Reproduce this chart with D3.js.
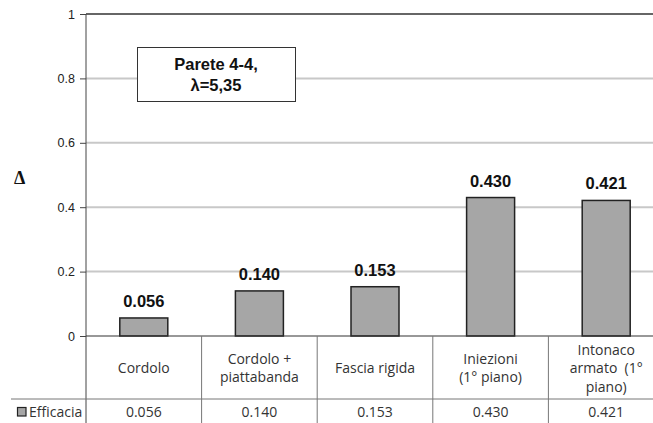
<!DOCTYPE html>
<html><head><meta charset="utf-8">
<script src="https://cdn.jsdelivr.net/npm/d3@7"></script>
<style>body{margin:0;background:#fff}svg{display:block}</style>
</head><body><svg id="c" width="653" height="423"></svg>
<script>
const categories = [["Cordolo"],["Cordolo +","piattabanda"],["Fascia rigida"],["Iniezioni","(1° piano)"],["Intonaco","armato \u00a0(1°","piano)"]];
const values = [0.056, 0.140, 0.153, 0.430, 0.421];
const valueLabels = ["0.056","0.140","0.153","0.430","0.421"];
const yTicks = [0, 0.2, 0.4, 0.6, 0.8, 1];
const yTickLabels = ["0","0.2","0.4","0.6","0.8","1"];
const seriesName = "Efficacia";
const titleLines = ["Parete 4-4,", "λ=5,35"];

const svg = d3.select("#c");
const padL = 86, padT = 14, zeroY = 336;
const bandW = 115.6;
const x = d3.scaleBand().domain(d3.range(values.length)).range([padL, padL + bandW*values.length]).paddingInner(0).paddingOuter(0);
const y = d3.scaleLinear().domain([0,1]).range([zeroY, padT]);

// gridlines
svg.append("g").selectAll("line").data(yTicks.filter(d=>d>0 && d<1)).join("line")
  .attr("x1", padL).attr("x2", 653).attr("y1", d=>y(d)).attr("y2", d=>y(d))
  .attr("stroke","#c8c8c8").attr("stroke-width",2);
// top border
svg.append("line").attr("x1",padL).attr("x2",653).attr("y1",y(1)).attr("y2",y(1)).attr("stroke","#333").attr("stroke-width",1.5);

// y axis
const yAxis = d3.axisLeft(y).tickValues(yTicks).tickFormat((d,i)=>yTickLabels[i]).tickSize(6).tickPadding(5);
const ga = svg.append("g").attr("transform",`translate(${padL},0)`).call(yAxis);
ga.select(".domain").remove();
ga.selectAll(".tick line").attr("stroke","#444");
ga.selectAll(".tick text").attr("font-family","Liberation Sans, Arial").attr("font-size",12.5).attr("fill","#222");
svg.append("line").attr("x1",padL).attr("x2",padL).attr("y1",padT).attr("y2",423).attr("stroke","#444").attr("stroke-width",1);

// bars
const bw = 48;
svg.append("g").selectAll("rect").data(values).join("rect")
  .attr("x",(d,i)=>x(i)+x.bandwidth()/2-bw/2).attr("width",bw)
  .attr("y",d=>y(d)).attr("height",d=>zeroY-y(d))
  .attr("fill","#a6a6a6").attr("stroke","#222").attr("stroke-width",1.5);

// value labels
svg.append("g").selectAll("text").data(values).join("text")
  .attr("x",(d,i)=>x(i)+x.bandwidth()/2).attr("y",d=>y(d)-11)
  .attr("text-anchor","middle").attr("font-family","Liberation Sans, Arial").attr("font-weight","bold").attr("font-size",16.5).attr("fill","#111")
  .text((d,i)=>valueLabels[i]);

// zero line
svg.append("line").attr("x1",padL).attr("x2",653).attr("y1",zeroY).attr("y2",zeroY).attr("stroke","#333").attr("stroke-width",1.2);

// table
const rowY = 399;
svg.append("line").attr("x1",11).attr("x2",653).attr("y1",rowY).attr("y2",rowY).attr("stroke","#777").attr("stroke-width",1);
svg.append("g").selectAll("line").data(d3.range(1,values.length)).join("line")
  .attr("x1",i=>x(i)).attr("x2",i=>x(i)).attr("y1",zeroY).attr("y2",423).attr("stroke","#777").attr("stroke-width",1);

const tf = "Open Sans, Liberation Sans, sans-serif";
const fs = 14;
const cg = svg.append("g");
categories.forEach((lines,i)=>{
  const cx = x(i)+x.bandwidth()/2;
  const lh = 18.5;
  const cy = 368;
  const t = cg.append("text").attr("text-anchor","middle").attr("font-family",tf).attr("font-size",fs).attr("fill","#333");
  lines.forEach((l,j)=>{
    t.append("tspan").attr("x",cx).attr("y",cy + (j-(lines.length-1)/2)*lh + 5).text(l);
  });
});
svg.append("g").selectAll("text").data(valueLabels).join("text")
  .attr("x",(d,i)=>x(i)+x.bandwidth()/2).attr("y",417)
  .attr("text-anchor","middle").attr("font-family",tf).attr("font-size",fs).attr("fill","#333").text(d=>d);
// legend key
svg.append("rect").attr("x",17.5).attr("y",407.5).attr("width",8.5).attr("height",8.5).attr("fill","#a6a6a6").attr("stroke","#222").attr("stroke-width",1.2);
svg.append("text").attr("x",29).attr("y",417).attr("font-family",tf).attr("font-size",fs).attr("fill","#333").text(seriesName);

// Δ label
svg.append("text").attr("x",14).attr("y",184).attr("font-family","Liberation Serif, serif").attr("font-weight","bold").attr("font-size",18).attr("fill","#111").text("Δ");

// title box
svg.append("rect").attr("x",137.5).attr("y",47.5).attr("width",158).attr("height",54).attr("fill","#fff").attr("stroke","#333").attr("stroke-width",1);
const tt = svg.append("text").attr("text-anchor","middle").attr("font-family","Liberation Sans, Arial").attr("font-weight","bold").attr("font-size",16.5).attr("fill","#111");
titleLines.forEach((l,j)=>tt.append("tspan").attr("x",216).attr("y",70+j*21).text(l));
</script></body></html>
